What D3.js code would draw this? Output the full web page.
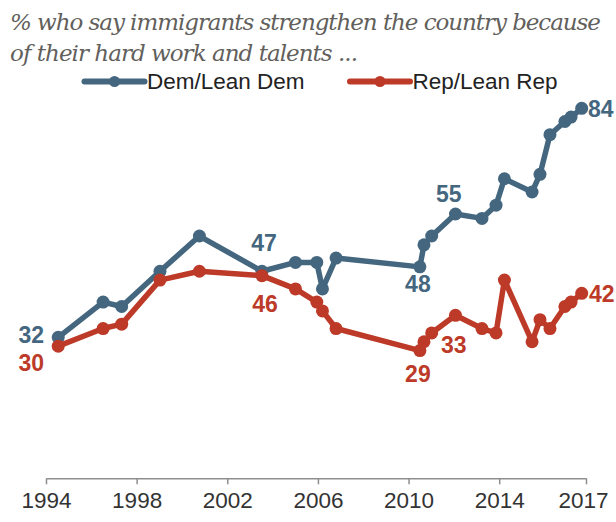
<!DOCTYPE html>
<html>
<head>
<meta charset="utf-8">
<script src="https://cdn.jsdelivr.net/npm/d3@7"></script>
<style>
  html, body { margin: 0; padding: 0; background: #fff; }
  svg { display: block; }
</style>
</head>
<body>
<svg id="chart" width="616" height="522"></svg>
<script>
// Survey dates (decimal years) shared by both series
const surveyDates = [1994.54, 1996.52, 1997.34, 1999.03, 2000.77, 2003.53, 2005.01, 2005.95,
  2006.20, 2006.80, 2010.50, 2010.68, 2011.02, 2012.07, 2013.24, 2013.86, 2014.23, 2015.45,
  2015.80, 2016.24, 2016.90, 2017.17, 2017.64];

// % who say immigrants strengthen the country
const demValues = [32, 40, 39, 47, 55, 47, 49, 49, 43, 50, 48, 53, 55, 60, 59, 62, 68, 65, 69, 78, 81, 82, 84];
const repValues = [30, 34, 35, 45, 47, 46, 43, 40, 38, 34, 29, 31, 33, 37, 34, 33, 45, 31, 36, 34, 39, 40, 42];

const seriesNames = ["Dem/Lean Dem", "Rep/Lean Rep"];
const tickYears = [1994, 1998, 2002, 2006, 2010, 2014];
const axisEnd = 2017.83;
const endTickLabel = "2017";
const titleLines = ["% who say immigrants strengthen the country because", "of their hard work and talents ..."];

// Labelled points: [series index, date index, dx, dy]
const labelled = [
  [0, 0, -27, 6], [1, 0, -27, 25],
  [0, 5, 2, -20], [1, 5, 3, 36],
  [0, 10, -2, 25], [1, 10, -2, 31],
  [0, 12, 17, -34], [1, 12, 22, 20],
  [0, 22, 19, 9], [1, 22, 20, 9]
];

const colors = ["#44677f", "#bd3a28"];

const svg = d3.select("#chart");

const x = d3.scaleLinear().domain([1994, axisEnd]).range([46, 586]);
const y = d3.scaleLinear().domain([0, 100]).range([478.3, 37.8]);

// Title: tight italic serif, spacing fitted to the line widths
const title = svg.append("g")
  .attr("font-family", "'DejaVu Serif', serif")
  .attr("font-style", "italic")
  .attr("font-size", 23)
  .attr("fill", "#625f5c");
const titleWidths = [591, 348];
const titleY = [30, 61];
titleLines.forEach((t, i) => {
  const txt = title.append("text").attr("x", 10).attr("y", titleY[i]).text(t);
  const w = txt.node().getComputedTextLength();
  const spacing = (titleWidths[i] - w) / (t.length - 1);
  txt.attr("letter-spacing", spacing.toFixed(3));
});

// Legend
const legendX = [84.5, 350];
const legend = svg.append("g");
seriesNames.forEach((name, i) => {
  const g = legend.append("g").attr("transform", `translate(${legendX[i]},81.5)`);
  g.append("line").attr("x1", 0).attr("x2", 60).attr("y1", 0).attr("y2", 0)
    .attr("stroke", colors[i]).attr("stroke-width", 6).attr("stroke-linecap", "round");
  g.append("circle").attr("cx", 30).attr("cy", 0).attr("r", 5.5).attr("fill", colors[i]);
  g.append("text").attr("x", 62.5).attr("y", 7.5)
    .attr("font-family", "'Liberation Sans', Arial, sans-serif")
    .attr("font-size", 22.5).attr("fill", "#222")
    .text(name);
});

// X axis
const xAxis = d3.axisBottom(x)
  .tickValues(tickYears.concat([axisEnd]))
  .tickFormat(d => d === axisEnd ? endTickLabel : String(d))
  .tickSize(6)
  .tickSizeOuter(0)
  .tickPadding(8);

const axisG = svg.append("g").attr("transform", `translate(0,${y(0)})`).call(xAxis);
axisG.select(".domain").attr("stroke", "#8f8f8f").attr("stroke-width", 1.5);
axisG.selectAll(".tick line").attr("stroke", "#8f8f8f").attr("stroke-width", 1.5);
axisG.selectAll(".tick text")
  .attr("font-family", "'Liberation Sans', Arial, sans-serif")
  .attr("font-size", 22.5).attr("fill", "#333");
axisG.selectAll(".tick").filter(d => d === axisEnd).select("text").attr("dx", -3);

// Lines and markers
const allSeries = [demValues, repValues];
const line = d3.line()
  .x(d => x(d.date))
  .y(d => y(d.value));

allSeries.forEach((vals, i) => {
  const pts = vals.map((v, j) => ({ date: surveyDates[j], value: v }));
  svg.append("path").datum(pts)
    .attr("d", line)
    .attr("fill", "none")
    .attr("stroke", colors[i])
    .attr("stroke-width", 5.5)
    .attr("stroke-linejoin", "round")
    .attr("stroke-linecap", "round");
  svg.append("g").selectAll("circle").data(pts).join("circle")
    .attr("cx", d => x(d.date))
    .attr("cy", d => y(d.value))
    .attr("r", 6.5)
    .attr("fill", colors[i]);
});

// Value labels
svg.append("g").selectAll("text").data(labelled).join("text")
  .attr("x", d => x(surveyDates[d[1]]) + d[2])
  .attr("y", d => y(allSeries[d[0]][d[1]]) + d[3])
  .attr("text-anchor", "middle")
  .attr("font-family", "'Liberation Sans', Arial, sans-serif")
  .attr("font-size", 23)
  .attr("font-weight", "bold")
  .attr("fill", d => colors[d[0]])
  .text(d => allSeries[d[0]][d[1]]);
</script>
</body>
</html>
